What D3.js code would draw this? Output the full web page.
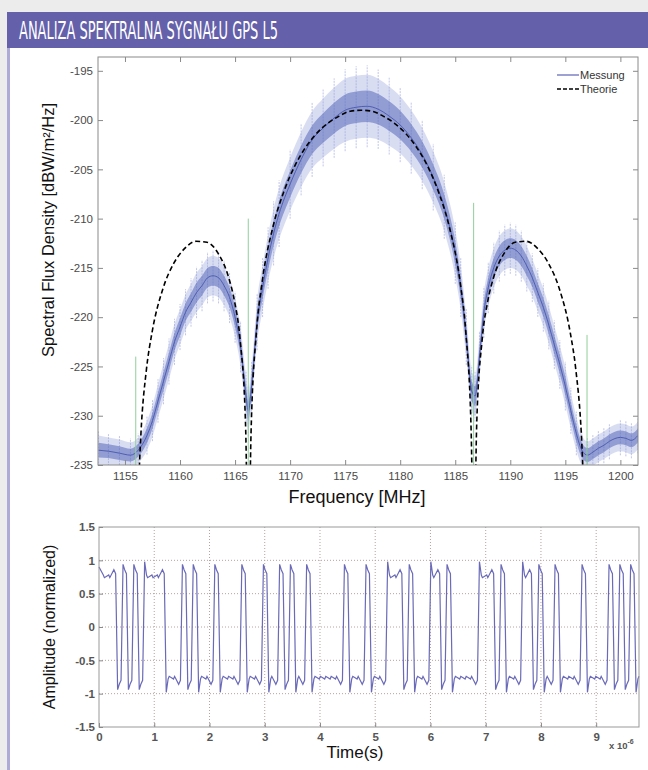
<!DOCTYPE html>
<html>
<head>
<meta charset="utf-8">
<script src="https://cdn.jsdelivr.net/npm/d3@7"></script>
<style>
  body { margin: 0; background: #fff; }
  svg { display: block; font-family: "Liberation Sans", Arial, sans-serif; }
</style>
</head>
<body>
<svg width="648" height="770"></svg>
<script>
const freqM = [1152.6, 1153.5, 1154.5, 1155.5, 1156.2, 1157.0, 1157.5, 1158.0, 1158.5, 1159.0,
  1159.5, 1160.0, 1160.5, 1161.0, 1161.5, 1162.0, 1162.5, 1163.0, 1163.5, 1164.0,
  1164.5, 1165.0, 1165.5, 1166.0, 1166.2, 1166.5, 1167.0, 1167.5, 1168.0, 1168.5,
  1169.0, 1170.0, 1171.0, 1172.0, 1173.0, 1174.0, 1175.0, 1176.0, 1177.0, 1178.0,
  1179.0, 1180.0, 1181.0, 1182.0, 1183.0, 1184.0, 1185.0, 1185.5, 1186.0, 1186.5,
  1186.8, 1187.2, 1187.6, 1188.0, 1188.5, 1189.0, 1189.5, 1190.0, 1190.5, 1191.0,
  1191.5, 1192.0, 1192.5, 1193.0, 1193.5, 1194.0, 1194.5, 1195.0, 1195.5, 1196.0,
  1196.5, 1197.0, 1197.5, 1198.0, 1198.5, 1199.0, 1200.0, 1200.5, 1201.0, 1201.6];
const midM = [-233.5, -233.6, -233.8, -234.0, -233.5, -232.0, -230.5, -228.5, -226.5, -224.5,
  -222.5, -221.0, -219.5, -218.5, -217.5, -216.8, -216.0, -215.8, -216.0, -216.8,
  -218.0, -220.0, -223.0, -228.0, -229.5, -227.0, -220.5, -217.0, -214.0, -211.5,
  -209.5, -206.5, -204.0, -202.0, -200.8, -199.8, -199.0, -198.7, -198.6, -198.9,
  -199.6, -200.5, -201.8, -203.5, -205.8, -208.8, -213.5, -217.0, -222.0, -227.5,
  -228.0, -224.0, -219.5, -217.0, -215.0, -213.8, -213.2, -213.0, -213.2, -213.8,
  -214.8, -216.0, -217.5, -219.0, -220.8, -222.8, -224.8, -227.0, -229.5, -231.8,
  -233.5, -234.0, -233.7, -233.3, -233.0, -232.6, -232.2, -232.3, -232.5, -232.0];
// half height of the error bars at each point
const spreadM = [1.5, 1.4, 1.4, 1.3, 1.3, 1.5, 1.6, 1.7, 1.8, 1.8,
  1.8, 1.8, 1.8, 1.9, 2.0, 2.0, 2.0, 2.0, 2.0, 2.0,
  2.0, 2.0, 2.0, 2.0, 2.0, 2.0, 2.2, 2.3, 2.4, 2.5,
  2.6, 2.7, 2.8, 2.9, 3.0, 3.1, 3.2, 3.2, 3.2, 3.1,
  3.0, 2.9, 2.8, 2.7, 2.6, 2.5, 2.4, 2.3, 2.2, 2.0,
  2.0, 2.0, 2.0, 2.0, 2.0, 2.0, 2.0, 2.0, 2.0, 2.0,
  2.0, 1.9, 1.9, 1.9, 1.9, 1.9, 1.9, 1.9, 1.8, 1.7,
  1.5, 1.4, 1.4, 1.4, 1.4, 1.4, 1.4, 1.4, 1.4, 1.4];

// ---- spectrum: theory curve (Theorie) ----
const freqT = [1155.99, 1156.45, 1156.95, 1157.45, 1158.45, 1159.45, 1160.45, 1161.45, 1162.45, 1163.45,
  1164.45, 1164.95, 1165.45, 1165.95, 1166.22, 1166.45, 1166.95, 1167.45, 1168.45, 1169.45,
  1170.45, 1171.45, 1172.45, 1173.45, 1174.45, 1175.45, 1176.45, 1177.45, 1178.45, 1179.45,
  1180.45, 1181.45, 1182.45, 1183.45, 1184.45, 1185.45, 1185.95, 1186.45, 1186.68, 1186.95,
  1187.45, 1187.95, 1188.45, 1189.45, 1190.45, 1191.45, 1192.45, 1193.45, 1194.45, 1195.45,
  1195.95, 1196.45, 1196.91];
const dbT = [-245, -231.8, -225.3, -221.6, -217.1, -214.5, -213.0, -212.3, -212.4, -213.5,
  -216.1, -218.4, -222.2, -230.8, -245, -231.8, -221.4, -216.5, -210.8, -207.2,
  -204.6, -202.7, -201.3, -200.3, -199.6, -199.1, -199.0, -199.1, -199.6, -200.3,
  -201.3, -202.7, -204.6, -207.2, -210.8, -216.5, -221.4, -231.8, -245, -230.8,
  -222.2, -218.4, -216.1, -213.5, -212.4, -212.3, -213.0, -214.5, -217.1, -221.6,
  -225.3, -231.8, -245];

// green marker lines
const markFreq = [1155.98, 1166.2, 1186.67, 1196.97];
const markTop = [-224.0, -210.0, -208.4, -221.8];

const freqTicks = [1155, 1160, 1165, 1170, 1175, 1180, 1185, 1190, 1195, 1200];
const dbTicks = [-235, -230, -225, -220, -215, -210, -205, -200, -195];

// ---- time signal: chip signs (chip = 1/10.23 MHz) ----
const chipLen = 0.09775; // microseconds
const chips = [1, 1, 1, -1, 1, -1, 1, -1, 1, 1,
  1, 1, -1, -1, -1, 1, -1, 1, -1, -1,
  -1, 1, -1, -1, -1, -1, 1, -1, -1, -1,
  1, -1, -1, 1, -1, 1, -1, -1, 1, -1,
  -1, -1, -1, -1, -1, 1, -1, -1, -1, 1,
  -1, -1, -1, 1, 1, 1, -1, 1, -1, -1,
  -1, 1, 1, -1, 1, -1, -1, -1, -1, -1,
  1, 1, 1, -1, 1, -1, -1, -1, 1, 1,
  -1, 1, -1, -1, 1, -1, -1, -1, -1, 1,
  -1, -1, -1, -1, 1, -1, 1, -1, 1, -1];
const timeTicks = [0, 1, 2, 3, 4, 5, 6, 7, 8, 9];
const ampTicks = [-1.5, -1, -0.5, 0, 0.5, 1, 1.5];

const svg = d3.select("svg");

// ---- page frame + header ----
svg.append("rect").attr("x", 0).attr("y", 0).attr("width", 648).attr("height", 770).attr("fill", "#ececec");
svg.append("rect").attr("x", 7).attr("y", 12).attr("width", 641).attr("height", 758).attr("fill", "#fff");
svg.append("rect").attr("x", 7).attr("y", 48).attr("width", 3).attr("height", 722).attr("fill", "#aeaad8");
svg.append("rect").attr("x", 7).attr("y", 12).attr("width", 641).attr("height", 36).attr("fill", "#6460aa");
svg.append("text")
  .attr("x", 19).attr("y", 39)
  .attr("fill", "#fff")
  .style("font-family", "'Liberation Sans Narrow', 'DejaVu Sans Condensed', sans-serif")
  .style("font-size", "25px")
  .attr("textLength", 259).attr("lengthAdjust", "spacingAndGlyphs")
  .text("ANALIZA SPEKTRALNA SYGNAŁU GPS L5");

// ================= top plot: spectrum =================
const x = d3.scaleLinear().domain([1152.55, 1201.6]).range([98, 638]);
const y = d3.scaleLinear().domain([-235, -193.6]).range([465, 57]);

svg.append("clipPath").attr("id", "clipTop")
  .append("rect").attr("x", 98).attr("y", 57).attr("width", 540).attr("height", 408);

const specG = svg.append("g").attr("clip-path", "url(#clipTop)");

const pts = freqM.map((f, i) => ({ f: f, m: midM[i], s: spreadM[i] }));

// outer error bar envelope
specG.append("path").datum(pts)
  .attr("fill", "#b3bbe6").attr("fill-opacity", 0.5)
  .attr("d", d3.area().curve(d3.curveMonotoneX)
    .x(d => x(d.f)).y0(d => y(d.m - d.s)).y1(d => y(d.m + d.s)));

// individual error bars
specG.selectAll(".ebar").data(pts).enter().append("line")
  .attr("class", "ebar")
  .attr("x1", d => x(d.f)).attr("x2", d => x(d.f))
  .attr("y1", d => y(d.m - d.s * 1.3)).attr("y2", d => y(d.m + d.s * 1.3))
  .attr("stroke", "#95a0d8").attr("stroke-width", 0.6).attr("stroke-dasharray", "2,1");

// dense core
specG.append("path").datum(pts)
  .attr("fill", "#5667ba").attr("fill-opacity", 0.55)
  .attr("d", d3.area().curve(d3.curveMonotoneX)
    .x(d => x(d.f)).y0(d => y(d.m - d.s * 0.5)).y1(d => y(d.m + d.s * 0.5)));

specG.append("path").datum(pts)
  .attr("fill", "none").attr("stroke", "#3f4ea8").attr("stroke-width", 0.8)
  .attr("d", d3.line().curve(d3.curveMonotoneX).x(d => x(d.f)).y(d => y(d.m)));

// green marker lines
specG.selectAll(".mark").data(markFreq).enter().append("line")
  .attr("x1", d => x(d)).attr("x2", d => x(d))
  .attr("y1", y(-235)).attr("y2", (d, i) => y(markTop[i]))
  .attr("stroke", "#8fcf9a").attr("stroke-width", 1);

// theory
specG.append("path").datum(freqT.map((f, i) => [f, dbT[i]]))
  .attr("fill", "none").attr("stroke", "#000").attr("stroke-width", 1.6)
  .attr("stroke-dasharray", "5,3")
  .attr("d", d3.line().curve(d3.curveMonotoneX).x(d => x(d[0])).y(d => y(d[1])));

// axes box + ticks
const axisCol = "#8a8a8a";
svg.append("rect").attr("x", 98).attr("y", 57).attr("width", 540).attr("height", 408)
  .attr("fill", "none").attr("stroke", axisCol).attr("stroke-width", 1);

const topAxes = svg.append("g").attr("class", "topAxes");
topAxes.append("g").attr("transform", "translate(0,465)")
  .call(d3.axisBottom(x).tickValues(freqTicks).tickSizeInner(-5).tickSizeOuter(0).tickPadding(7).tickFormat(d3.format("d")))
  .call(g => g.select(".domain").remove());
topAxes.append("g").attr("transform", "translate(0,57)")
  .call(d3.axisTop(x).tickValues(freqTicks).tickSizeInner(-5).tickSizeOuter(0).tickFormat(""))
  .call(g => g.select(".domain").remove());
topAxes.append("g").attr("transform", "translate(98,0)")
  .call(d3.axisLeft(y).tickValues(dbTicks).tickSizeInner(-5).tickSizeOuter(0).tickPadding(5).tickFormat(d => String(d)))
  .call(g => g.select(".domain").remove());
topAxes.append("g").attr("transform", "translate(638,0)")
  .call(d3.axisRight(y).tickValues(dbTicks).tickSizeInner(-5).tickSizeOuter(0).tickFormat(""))
  .call(g => g.select(".domain").remove());

// legend
const leg = svg.append("g").attr("transform", "translate(557,0)");
leg.append("line").attr("x1", 0).attr("x2", 22).attr("y1", 75).attr("y2", 75)
  .attr("stroke", "#5b63b4").attr("stroke-width", 1.2);
leg.append("line").attr("x1", 0).attr("x2", 22).attr("y1", 89).attr("y2", 89)
  .attr("stroke", "#000").attr("stroke-width", 1.3).attr("stroke-dasharray", "4,2");
leg.append("text").attr("x", 23).attr("y", 79).style("font-size", "11px").attr("fill", "#333").text("Messung");
leg.append("text").attr("x", 23).attr("y", 93).style("font-size", "11px").attr("fill", "#333").text("Theorie");

svg.append("text").attr("x", 357).attr("y", 503).attr("text-anchor", "middle")
  .style("font-size", "18px").attr("fill", "#111").text("Frequency [MHz]");
svg.append("text").attr("transform", "translate(54,230) rotate(-90)").attr("text-anchor", "middle")
  .style("font-size", "16.5px").attr("fill", "#111")
  .text("Spectral Flux Density [dBW/m²/Hz]");

// ================= bottom plot: time signal =================
const xt = d3.scaleLinear().domain([0, chips.length * chipLen]).range([99, 639]);
const ya = d3.scaleLinear().domain([-1.5, 1.5]).range([727, 527]);

// grid
const gridCol = "#b8a0a0";
svg.append("g").selectAll("line").data(timeTicks.slice(1)).enter().append("line")
  .attr("x1", d => xt(d)).attr("x2", d => xt(d)).attr("y1", 527).attr("y2", 727)
  .attr("stroke", gridCol).attr("stroke-width", 1).attr("stroke-dasharray", "1,2");
svg.append("g").selectAll("line").data(ampTicks.slice(1, -1)).enter().append("line")
  .attr("x1", 99).attr("x2", 639).attr("y1", d => ya(d)).attr("y2", d => ya(d))
  .attr("stroke", gridCol).attr("stroke-width", 1).attr("stroke-dasharray", "1,2");

// build the waveform vertices from the chip signs
const wave = [[0, 0.9]];
chips.forEach((c, i) => {
  const p = i > 0 ? chips[i - 1] : c;
  const n = i < chips.length - 1 ? chips[i + 1] : c;
  const t0 = i * chipLen;
  if (c !== p) {
    wave.push([t0 + 0.08 * chipLen, p * 0.8]);
    wave.push([t0 + 0.45 * chipLen, c * (n === c ? 0.98 : 0.94)]);
  }
  if (n === c) {
    wave.push([t0 + 0.8 * chipLen, c * 0.78]);
    wave.push([t0 + chipLen, c * 0.74]);
  } else {
    wave.push([t0 + 0.75 * chipLen, c * 0.86]);
  }
});

svg.append("path").datum(wave)
  .attr("fill", "none").attr("stroke", "#6a6ab8").attr("stroke-width", 1.2)
  .attr("d", d3.line().x(d => xt(d[0])).y(d => ya(d[1])));

svg.append("rect").attr("x", 99).attr("y", 527).attr("width", 540).attr("height", 200)
  .attr("fill", "none").attr("stroke", "#999").attr("stroke-width", 1);

const botAxes = svg.append("g").attr("class", "botAxes");
botAxes.append("g").attr("transform", "translate(0,727)")
  .call(d3.axisBottom(xt).tickValues(timeTicks).tickSizeInner(-4).tickSizeOuter(0).tickPadding(6).tickFormat(d3.format("d")))
  .call(g => g.select(".domain").remove());
botAxes.append("g").attr("transform", "translate(99,0)")
  .call(d3.axisLeft(ya).tickValues(ampTicks).tickSizeInner(-4).tickSizeOuter(0).tickPadding(4).tickFormat(d => String(d)))
  .call(g => g.select(".domain").remove());

svg.append("text").attr("x", 355).attr("y", 758).attr("text-anchor", "middle")
  .style("font-size", "17px").attr("fill", "#111").text("Time(s)");
const mult = svg.append("text").attr("x", 609).attr("y", 749)
  .style("font-size", "9.5px").style("font-weight", "bold").attr("fill", "#555");
mult.append("tspan").text("x 10");
mult.append("tspan").attr("dy", -5).style("font-size", "7px").text("-6");

svg.append("text").attr("transform", "translate(55,627) rotate(-90)").attr("text-anchor", "middle")
  .style("font-size", "16px").attr("fill", "#111").text("Amplitude (normalized)");

// tick styles
svg.selectAll(".tick line").attr("stroke", axisCol);
svg.selectAll(".tick text").attr("fill", "#4a4a4a").style("font-size", "11.5px").style("font-family", "'Liberation Sans', Arial, sans-serif");
svg.selectAll(".botAxes .tick text").style("font-weight", "bold").attr("fill", "#555");
</script>
</body>
</html>
